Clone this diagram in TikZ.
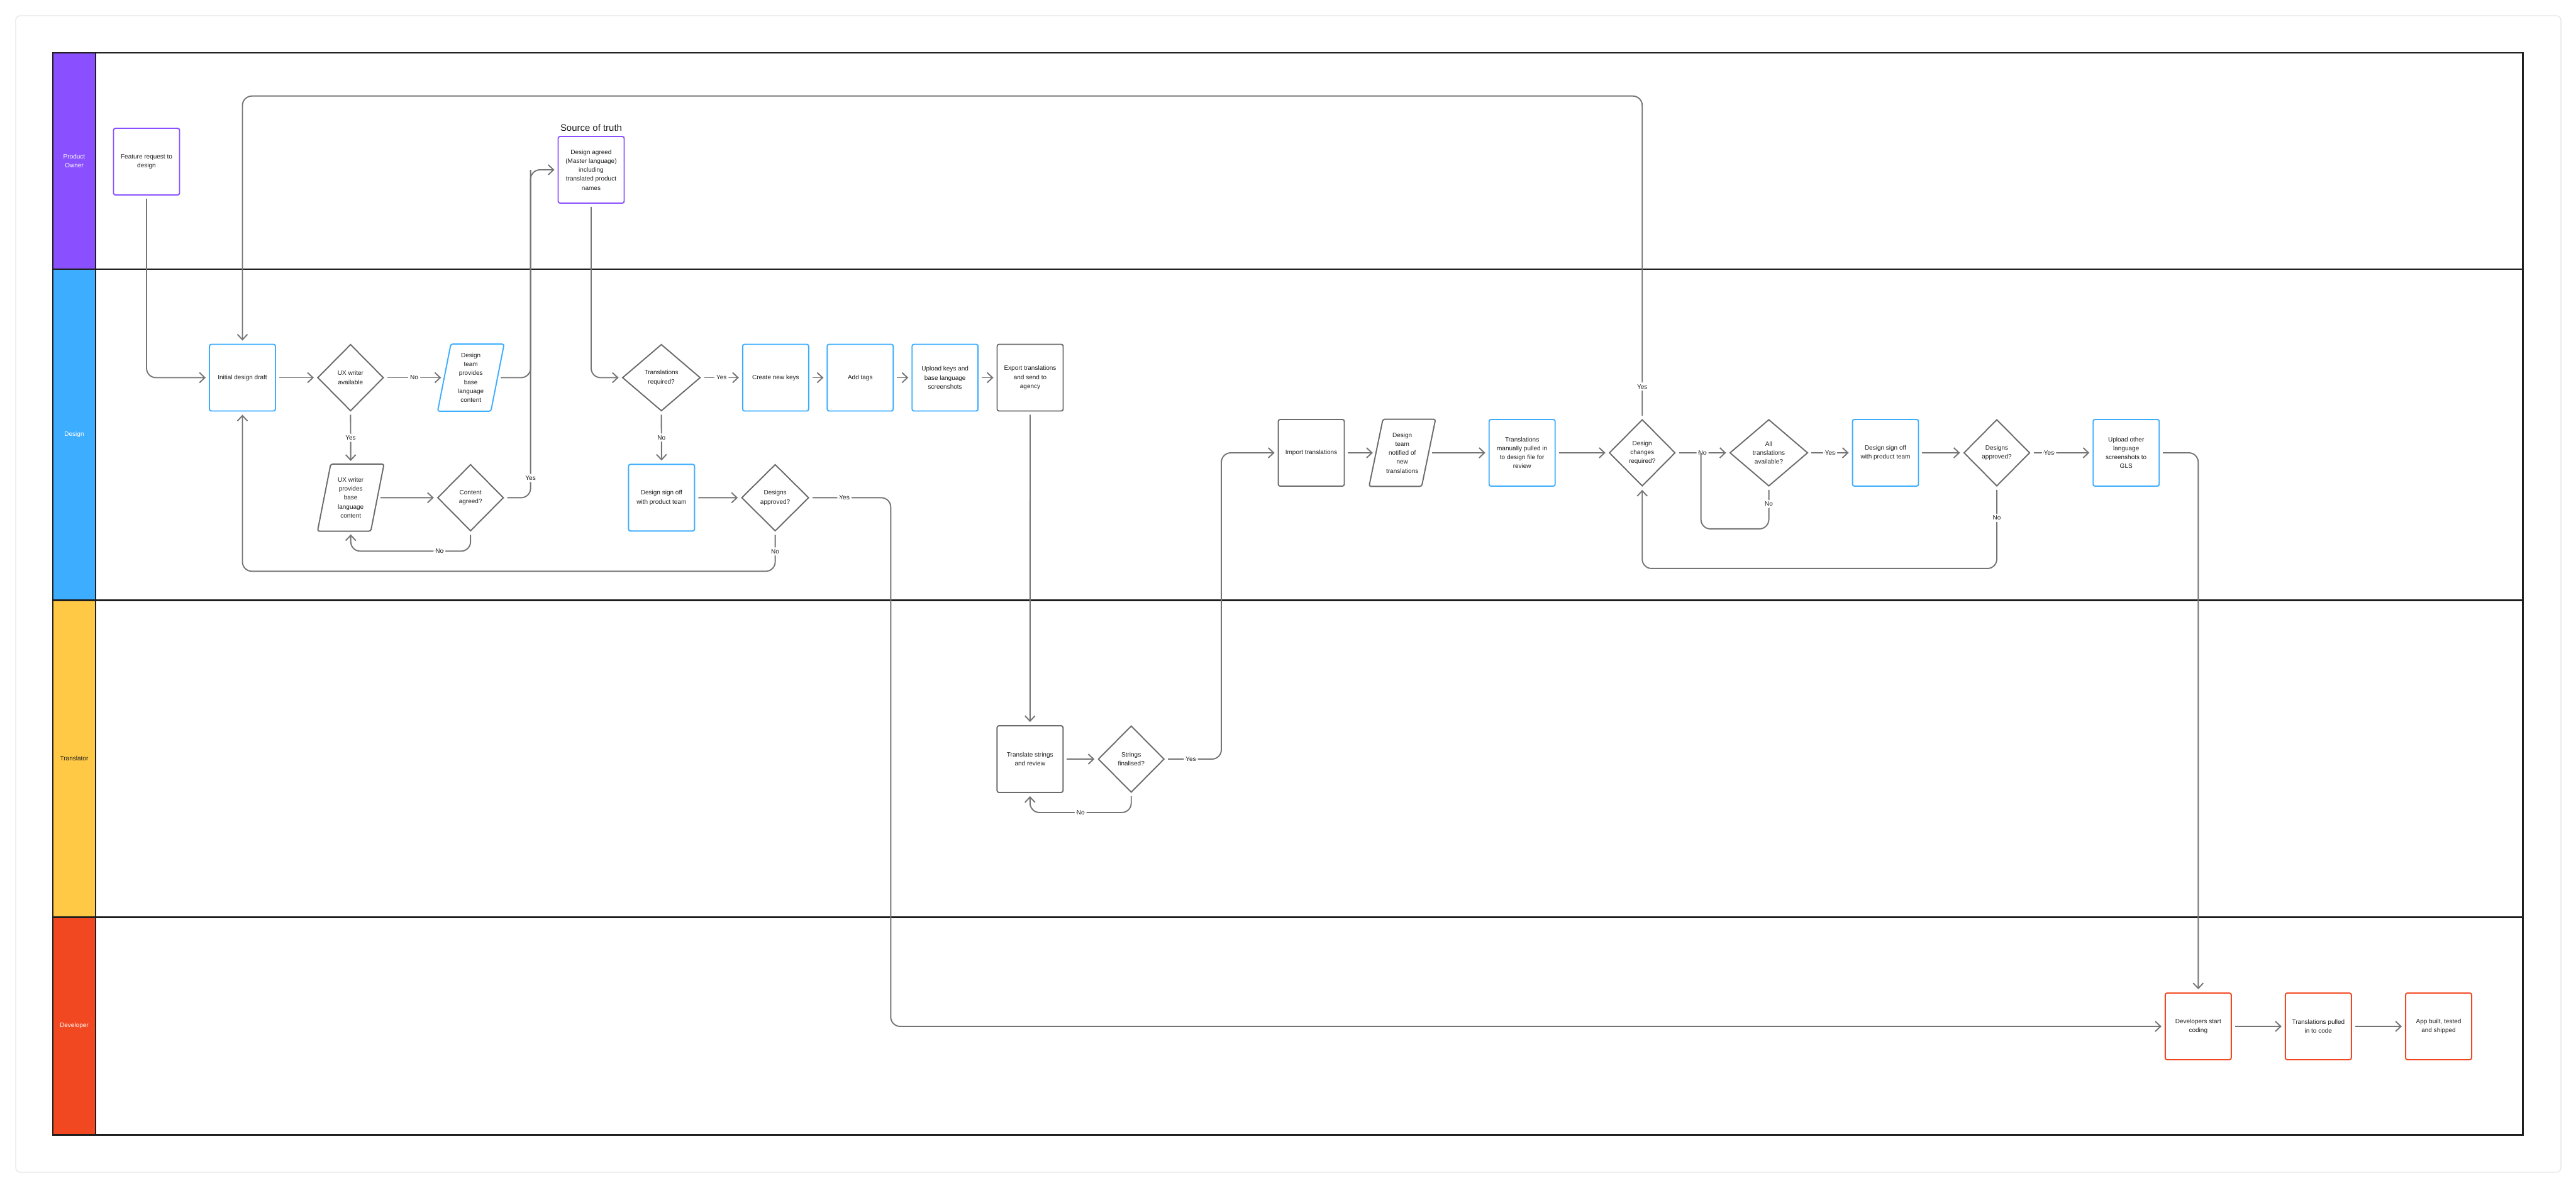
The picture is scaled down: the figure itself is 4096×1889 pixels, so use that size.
\documentclass[tikz,border=0pt]{standalone}
\usepackage{fontspec}
\setmainfont{Liberation Sans}
\usetikzlibrary{shapes.geometric,arrows.meta,calc}

\definecolor{povio}{HTML}{8A50FF}
\definecolor{desblue}{HTML}{3DADFF}
\definecolor{trayel}{HTML}{FFC845}
\definecolor{devred}{HTML}{F24822}
\definecolor{linegray}{HTML}{757575}
\definecolor{boxgray}{HTML}{6B6B6B}
\definecolor{ink}{HTML}{1E1E1E}
\definecolor{framegray}{HTML}{E6E6E6}

\newcommand{\boxfont}{\fontsize{5.7}{8.1}\selectfont}
\newcommand{\sotfont}{\fontsize{8.5}{10}\selectfont}

\tikzset{
    procbox/.style={rectangle, rounded corners=0.06cm, line width=1.1pt, fill=white,
        minimum width=2.1cm, minimum height=2.12cm, inner sep=0.08cm,
        align=center, font=\boxfont, text=ink},
    pobox/.style={procbox, draw=povio},
    dbox/.style={procbox, draw=desblue},
    gbox/.style={procbox, draw=boxgray},
    rbox/.style={procbox, draw=devred},
    dec/.style={diamond, aspect=1, draw=boxgray, line width=1.1pt, fill=white, inner sep=0pt,
        minimum width=2.1cm, minimum height=2.12cm, align=center, font=\boxfont, text=ink},
    para/.style={rectangle, inner sep=0pt, minimum width=2.1cm, minimum height=2.12cm,
        align=center, font=\boxfont, text=ink},
    slant/.style={line width=1.1pt, rounded corners=0.06cm},
    lane/.style={align=center, font=\boxfont},
    flow/.style={draw=linegray, line width=1.1pt, rounded corners=0.3cm,
        -{Straight Barb[length=0.17cm,width=0.32cm]}, shorten >=0.1cm, shorten <=0.1cm},
    link/.style={flow, -, shorten >=0pt},
    lbl/.style={fill=white, inner sep=0.06cm, font=\boxfont, text=ink}
}

\begin{document}
\begin{tikzpicture}[x=0.02cm, y=-0.02cm]

    \useasboundingbox (0,0) rectangle (4096,1889);
    \draw[framegray, line width=0.8pt, rounded corners=0.15cm] (25,25) rectangle (4072,1864);

    \filldraw[fill=povio, draw=ink, line width=1.7pt] (84,84) rectangle (152,428);
    \filldraw[fill=desblue, draw=ink, line width=1.7pt] (84,428) rectangle (152,954);
    \filldraw[fill=trayel, draw=ink, line width=1.7pt] (84,954) rectangle (152,1458);
    \filldraw[fill=devred, draw=ink, line width=1.7pt] (84,1458) rectangle (152,1804);
    \draw[ink, line width=1.7pt] (84,84) rectangle (4011,1804);
    \foreach \y in {428,954,1458} \draw[ink, line width=1.7pt] (152,\y) -- (4011,\y);

    \node[lane, text=white] (lpo) at (118,256) {Product\\Owner};
    \node[lane, text=white] (lde) at (118,691) {Design};
    \node[lane, text=ink] (ltr) at (118,1206) {Translator};
    \node[lane, text=white] (ldv) at (118,1631) {Developer};

    \node[pobox] (feat) at (233,257) {Feature request to\\design};
    \node[pobox] (sot) at (940,270) {Design agreed\\(Master language)\\including\\translated product\\names};
    \node[font=\sotfont, text=ink] (sotlbl) at (940,203) {Source of truth};

    \node[dbox] (init) at (385.5,600.5) {Initial design draft};
    \node[dec] (uxq) at (557.4,600.5) {UX writer\\available};
    \node[para] (dtb) at (748.7,600.5) {Design\\team\\provides\\base\\language\\content};
    \node[para] (uxw) at (557.7,791.3) {UX writer\\provides\\base\\language\\content};
    \node[dec] (agq) at (748.2,791.4) {Content\\agreed?};
    \node[dec, minimum width=2.48cm] (trq) at (1051.6,600.5) {Translations\\required?};
    \node[dbox] (dso) at (1051.9,791.3) {Design sign off\\with product team};
    \node[dec, minimum width=2.14cm] (apq) at (1232.6,791.4) {Designs\\approved?};
    \node[dbox] (cnk) at (1233.3,600.5) {Create new keys};
    \node[dbox] (tag) at (1367.8,600.5) {Add tags};
    \node[dbox] (upk) at (1502.7,600.5) {Upload keys and\\base language\\screenshots};
    \node[gbox] (exp) at (1638,600.5) {Export translations\\and send to\\agency};

    \node[gbox] (trs) at (1637.8,1207) {Translate strings\\and review};
    \node[dec] (sfq) at (1798.7,1207) {Strings\\finalised?};

    \node[gbox] (imp) at (2085,720) {Import translations};
    \node[para] (ntf) at (2229.7,720) {Design\\team\\notified of\\new\\translations};
    \node[dbox] (man) at (2420.2,720) {Translations\\manually pulled in\\to design file for\\review};
    \node[dec] (dcq) at (2611.2,720) {Design\\changes\\required?};
    \node[dec, minimum width=2.48cm] (atq) at (2812.5,720) {All\\translations\\available?};
    \node[dbox] (ds2) at (2998,720) {Design sign off\\with product team};
    \node[dec] (ap2) at (3175,720) {Designs\\approved?};
    \node[dbox] (upo) at (3380.7,720) {Upload other\\language\\screenshots to\\GLS};

    \node[rbox] (dev) at (3495.3,1632) {Developers start\\coding};
    \node[rbox] (tpc) at (3686.3,1632) {Translations pulled\\in to code};
    \node[rbox] (app) at (3877.5,1632) {App built, tested\\and shipped};

    \draw[slant, desblue] ([xshift=0.42cm]dtb.north west) -- (dtb.north east) -- ([xshift=-0.42cm]dtb.south east) -- (dtb.south west) -- cycle;
    \draw[slant, boxgray] ([xshift=0.42cm]uxw.north west) -- (uxw.north east) -- ([xshift=-0.42cm]uxw.south east) -- (uxw.south west) -- cycle;
    \draw[slant, boxgray] ([xshift=0.44cm]ntf.north west) -- (ntf.north east) -- ([xshift=-0.44cm]ntf.south east) -- (ntf.south west) -- cycle;

    \coordinate (j1) at (843.6,270);
    \coordinate (top) at (0,152.7);
    \coordinate (j3) at (1416.3,1632);
    \coordinate (j4) at (1942,720);
    \coordinate (j5) at (2704.6,720);

    \draw[flow] (feat.south) |- (init.west);
    \draw[flow] (init.east) -- (uxq.west);
    \draw[flow] (uxq.east) -- node[lbl]{No} ([xshift=0.21cm]dtb.west);
    \draw[flow] ([xshift=-0.21cm]dtb.east) -| (j1) -- (sot.west);
    \draw[link] (agq.east) -| node[lbl,pos=0.53]{Yes} (j1);
    \draw[flow] (uxq.south) -- node[lbl]{Yes} (uxw.north);
    \draw[flow] ([xshift=-0.21cm]uxw.east) -- (agq.west);
    \draw[flow] (agq.south) -- ++(0,31) -| node[lbl,pos=0.13]{No} (uxw.south);
    \draw[flow] (dcq.north) -- node[lbl,pos=0.1]{Yes} (dcq.north |- top) -| (init.north);
    \draw[flow] (sot.south) |- (trq.west);
    \draw[flow] (trq.east) -- node[lbl]{Yes} (cnk.west);
    \draw[flow] (trq.south) -- node[lbl]{No} (dso.north);
    \foreach \a/\b in {cnk/tag,tag/upk,upk/exp} \draw[flow] (\a.east) -- (\b.west);
    \draw[flow] (exp.south) -- (trs.north);
    \draw[flow] (dso.east) -- (apq.west);
    \draw[flow] (apq.east) -| node[lbl,pos=0.215]{Yes} (j3) -- (dev.west);
    \draw[flow] (apq.south) -- node[lbl]{No} ++(0,63) -| (init.south);

    \draw[flow] (trs.east) -- (sfq.west);
    \draw[flow] (sfq.south) -- ++(0,31) -| node[lbl,pos=0.25]{No} (trs.south);
    \draw[flow] (sfq.east) -| node[lbl,pos=0.23]{Yes} (j4) -- (imp.west);

    \draw[flow] (imp.east) -- ([xshift=0.22cm]ntf.west);
    \draw[flow] ([xshift=-0.22cm]ntf.east) -- (man.west);
    \draw[flow] (man.east) -- (dcq.west);
    \draw[flow] (dcq.east) -- node[lbl]{No} (atq.west);
    \draw[link] (atq.south) -- node[lbl,pos=0.41]{No} ++(0,67) -| (j5);
    \draw[flow] (atq.east) -- node[lbl]{Yes} (ds2.west);
    \draw[flow] (ds2.east) -- (ap2.west);
    \draw[flow] (ap2.east) -- node[lbl,pos=0.3]{Yes} (upo.west);
    \draw[flow] (ap2.south) -- node[lbl,pos=0.38]{No} ++(0,130) -| (dcq.south);
    \draw[flow] (upo.east) -| (dev.north);
    \foreach \a/\b in {dev/tpc,tpc/app} \draw[flow] (\a.east) -- (\b.west);

\end{tikzpicture}
\end{document}
